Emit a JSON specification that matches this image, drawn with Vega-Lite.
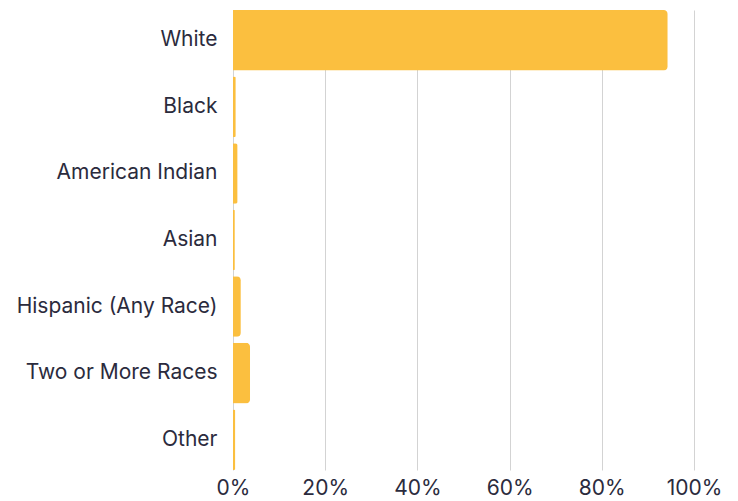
{
  "$schema": "https://vega.github.io/schema/vega-lite/v6.json",
  "width": 461,
  "height": 460,
  "autosize": {"type": "none"},
  "padding": {"left": 233, "top": 10, "right": 44, "bottom": 31},
  "background": "white",
  "data": {
    "values": [
      {"race": "White", "share": 0.943},
      {"race": "Black", "share": 0.006},
      {"race": "American Indian", "share": 0.010},
      {"race": "Asian", "share": 0.004},
      {"race": "Hispanic (Any Race)", "share": 0.017},
      {"race": "Two or More Races", "share": 0.037},
      {"race": "Other", "share": 0.005}
    ]
  },
  "mark": {"type": "bar", "color": "#FBBF3F", "cornerRadiusEnd": 4},
  "encoding": {
    "y": {
      "field": "race",
      "type": "nominal",
      "sort": null,
      "scale": {"paddingInner": 0.09, "paddingOuter": 0.0},
      "axis": {
        "title": null,
        "domain": false,
        "ticks": false,
        "labelFont": "Inter",
        "labelFontSize": 21,
        "labelColor": "#2b2b3d",
        "labelPadding": 16,
        "labelLimit": 300
      }
    },
    "x": {
      "field": "share",
      "type": "quantitative",
      "scale": {"domain": [0, 1]},
      "axis": {
        "title": null,
        "format": ".0%",
        "values": [0, 0.2, 0.4, 0.6, 0.8, 1],
        "domain": false,
        "ticks": false,
        "grid": true,
        "gridColor": "#d3d3d3",
        "gridWidth": 1,
        "labelFont": "Inter",
        "labelFontSize": 21,
        "labelColor": "#2b2b3d",
        "labelPadding": 7,
        "labelFlush": false
      }
    }
  },
  "config": {"view": {"stroke": null}}
}
